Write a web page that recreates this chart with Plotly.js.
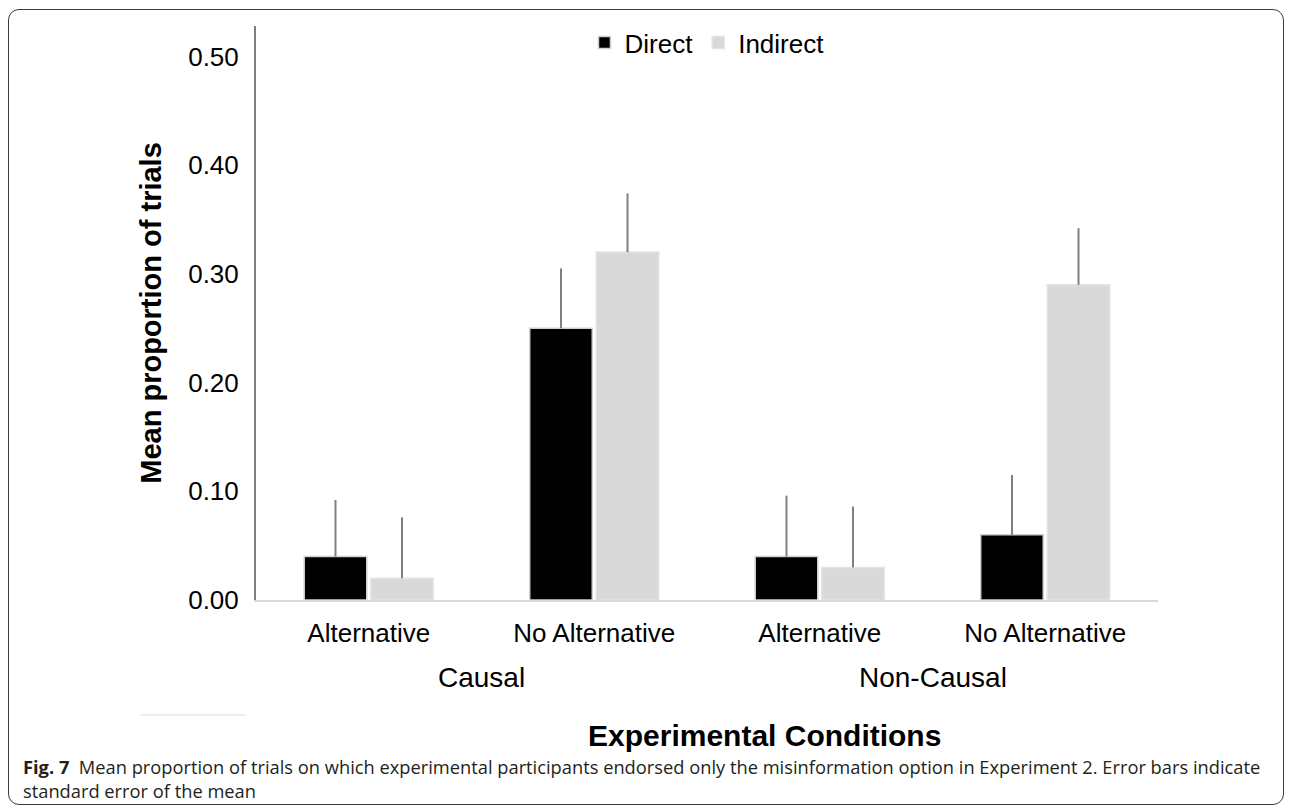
<!DOCTYPE html>
<html>
<head>
<meta charset="utf-8">
<script src="https://cdn.plot.ly/plotly-3.0.1.min.js"></script>
<style>
  html, body { margin: 0; padding: 0; background: #fff; }
  #wrap { position: relative; width: 1292px; height: 808px; }
  #chart { width: 1292px; height: 808px; }
  #frame { position: absolute; left: 8px; top: 9px; width: 1274px; height: 794px;
           border: 1.3px solid #3a3a3a; border-radius: 11px; pointer-events: none; }
</style>
</head>
<body>
<div id="wrap">
  <div id="chart"></div>
  <div id="frame"></div>
</div>
<script>
// ---- data ----
const groups = ["Causal", "Causal", "Non-Causal", "Non-Causal"];
const conditions = ["Alternative", "No Alternative", "Alternative", "No Alternative"];
const directValues = [0.04, 0.25, 0.04, 0.06];
const indirectValues = [0.02, 0.32, 0.03, 0.29];
const directSE = [0.052, 0.055, 0.056, 0.055];
const indirectSE = [0.056, 0.054, 0.056, 0.052];
const yTickVals = [0, 0.1, 0.2, 0.3, 0.4, 0.5];
const yTickText = ["0.00", "0.10", "0.20", "0.30", "0.40", "0.50"];
const seriesNames = ["Direct", "Indirect"];
const xTitle = "Experimental Conditions";
const yTitle = "Mean proportion of trials";
const captionBold = "Fig. 7";
const captionLine1 = "Mean proportion of trials on which experimental participants endorsed only the misinformation option in Experiment 2. Error bars indicate";
const captionLine2 = "standard error of the mean";

const font = "Liberation Sans, Arial, Helvetica, sans-serif";
const zeros = directValues.map(() => 0);
// unique category keys (group + condition), shown with the condition label only
const catKeys = conditions.map((c, i) => groups[i] + " | " + c);

const errStyle = { type: "data", symmetric: false, arrayminus: zeros, color: "#808080", thickness: 2, width: 0, visible: true };

const traces = [
  {
    type: "bar", name: seriesNames[0],
    x: catKeys, y: directValues,
    marker: { color: "#000000", line: { color: "#cfcfcf", width: 1.5 } },
    error_y: Object.assign({ array: directSE }, errStyle),
    hoverinfo: "skip"
  },
  {
    type: "bar", name: seriesNames[1],
    x: catKeys, y: indirectValues,
    marker: { color: "#d9d9d9", line: { color: "#e4e4e4", width: 1.5 } },
    error_y: Object.assign({ array: indirectSE }, errStyle),
    hoverinfo: "skip"
  }
];

// pixel helpers for text placement (plot area: x 256..1158, y 26..600)
const L = 256, R = 1158, T = 26, B = 600;
const px = v => (v - L) / (R - L);
const py = v => (B - v) / (B - T);

// group labels centred under their categories
const uniqueGroups = [...new Set(groups)];
const groupAnnotations = uniqueGroups.map(g => {
  const idx = groups.map((gg, i) => gg === g ? i : -1).filter(i => i >= 0);
  const mid = idx.reduce((a, b) => a + b, 0) / idx.length;
  return { text: g, xref: "x", yref: "paper", x: mid, y: py(677),
           xanchor: "center", yanchor: "middle", showarrow: false,
           font: { family: font, size: 28, color: "#000" } };
});

const layout = {
  width: 1292, height: 808,
  margin: { l: L, r: 1292 - R, t: T, b: 808 - B },
  paper_bgcolor: "#ffffff", plot_bgcolor: "#ffffff",
  font: { family: font, color: "#000000", size: 26 },
  barmode: "group", bargap: 0.41, bargroupgap: 0.06,
  showlegend: true,
  legend: {
    orientation: "h", x: 0.5, xanchor: "center", y: 1.012, yanchor: "top",
    font: { family: font, size: 26, color: "#000" }, bgcolor: "rgba(0,0,0,0)",
    itemwidth: 30, traceorder: "normal"
  },
  xaxis: {
    type: "category", tickvals: catKeys, ticktext: conditions,
    ticks: "", showgrid: false, zeroline: false,
    showline: true, linecolor: "#d9d9d9", linewidth: 2,
    tickfont: { family: font, size: 26, color: "#000" },
    ticklabelstandoff: 9
  },
  yaxis: {
    range: [0, 0.528], tickvals: yTickVals, ticktext: yTickText,
    showgrid: false, zeroline: false, ticks: "",
    showline: true, linecolor: "#7f7f7f", linewidth: 2,
    tickfont: { family: font, size: 26, color: "#000" },
    ticklabelstandoff: 10,
    title: { text: "<b>" + yTitle + "</b>", font: { family: font, size: 29, color: "#000" }, standoff: 18 }
  },
  annotations: groupAnnotations.concat([
    { text: "<b>" + xTitle + "</b>", xref: "paper", yref: "paper", x: px(764), y: py(735),
      xanchor: "center", yanchor: "middle", showarrow: false,
      font: { family: font, size: 30, color: "#000" } },
    { text: "<b>" + captionBold + "</b>  " + captionLine1 + "<br>" + captionLine2,
      xref: "paper", yref: "paper", x: px(21), y: py(752),
      xanchor: "left", yanchor: "top", align: "left", showarrow: false,
      font: { family: "Open Sans, Noto Sans, sans-serif", size: 18.3, color: "#231f20" } }
  ]),
  shapes: [
    { type: "line", xref: "paper", yref: "paper", x0: px(140), x1: px(245), y0: py(715), y1: py(715),
      line: { color: "#eeeeee", width: 2 } }
  ]
};

Plotly.newPlot("chart", traces, layout, { displayModeBar: false, staticPlot: true });
</script>
</body>
</html>
